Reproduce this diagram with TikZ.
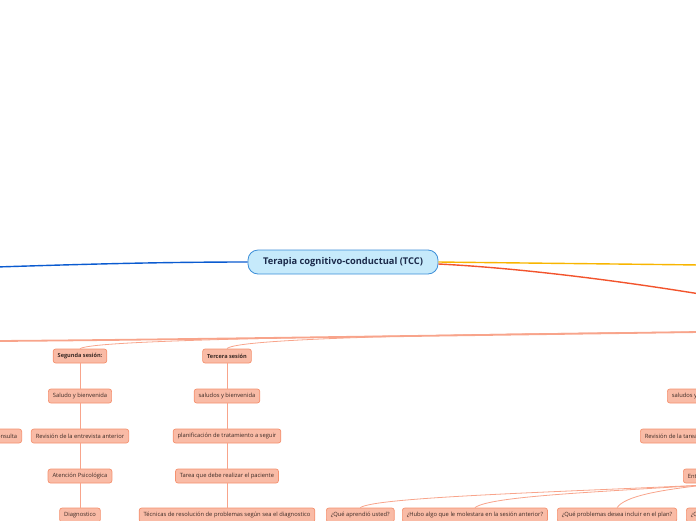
\documentclass[tikz,border=0pt]{standalone}
\usepackage{fontspec}
\setmainfont{Open Sans}
\definecolor{rootfill}{HTML}{C6EAFB}
\definecolor{rootdraw}{HTML}{3D8FD8}
\definecolor{roottext}{HTML}{1B2A4A}
\definecolor{bline}{HTML}{0A5BD0}
\definecolor{yline}{HTML}{F8B500}
\definecolor{rline}{HTML}{F2542D}
\definecolor{sline}{HTML}{F8A48B}
\definecolor{sfill}{HTML}{F9BBA6}
\definecolor{sdraw}{HTML}{F5916F}
\definecolor{stext}{HTML}{3A2A25}
\tikzset{
  rootbox/.style={draw=rootdraw, fill=rootfill, line width=0.8pt, rounded corners=10pt,
    minimum width=190pt, minimum height=24pt, text=roottext,
    font=\fontsize{9.3}{11}\selectfont\bfseries},
  subbox/.style={draw=sdraw, fill=sfill, line width=0.7pt, rounded corners=2.5pt,
    minimum height=14pt, inner xsep=4.5pt, inner ysep=0pt, text=stext,
    font=\fontsize{5.8}{7}\selectfont},
  subbold/.style={subbox, font=\fontsize{5.6}{7}\selectfont\bfseries},
  conn/.style={draw=sline, line width=0.8pt},
  thickconn/.style={draw=sline, line width=1.8pt},
}
\begin{document}
\begin{tikzpicture}[x=1pt,y=-1pt]
\useasboundingbox (0,0) rectangle (696,520);
\clip (0,0) rectangle (696,520);

% root
\node[rootbox] (root) at (343,262) {Terapia cognitivo-conductual (TCC)};

% off-screen ends
\coordinate (bl) at (-4,267);
\coordinate (yr) at (700,265);
\coordinate (rr) at (700,294);
\coordinate (sr) at (700,332);
\coordinate (sl) at (-4,341);
\coordinate (eo) at (705,485);

% main branches
\draw[bline, line width=1.4pt] (root.west) .. controls (150,262) and (60,265) .. (bl);
\draw[yline, line width=1.4pt] (root.east) .. controls (520,263) and (620,264) .. (yr);
\draw[rline, line width=1.4pt] ([yshift=-2pt]root.east) .. controls (520,268) and (620,281) .. (rr);

% column 1
\node[subbold] (seg) at (80,356) {Segunda sesión:};
\node[subbox] (sal1) at (80,396) {Saludo y bienvenida};
\node[subbox] (rev1) at (80,436) {Revisión de la entrevista anterior};
\node[subbox] (aten) at (80,476) {Atención Psicológica};
\node[subbox] (diag) at (80,515) {Diagnostico};

% column 2
\node[subbold] (ter) at (227,356) {Tercera sesión};
\node[subbox] (sal2) at (227,396) {saludos y bienvenida};
\node[subbox] (plan) at (227,436) {planificación de tratamiento a seguir};
\node[subbox] (tarea) at (227,476) {Tarea que debe realizar el paciente};
\node[subbox] (tec) at (227,515) {Técnicas de resolución de problemas según sea el diagnostico};

% left partial
\node[subbox, anchor=east] (cons) at (22,436) {Motivo de consulta};

% right column (partial)
\node[subbox, anchor=west] (sal3) at (667,396) {saludos y bienvenida};
\node[subbox, anchor=west] (revt) at (640,436) {Revisión de la tarea};
\node[subbox, anchor=west] (ent) at (683,476) {Entrevista};

% bottom row
\node[subbox, anchor=west] (q1) at (326,515) {¿Qué aprendió usted?};
\node[subbox, anchor=west] (q2) at (402,515) {¿Hubo algo que le molestara en la sesión anterior?};
\node[subbox, anchor=west] (q3) at (557,515) {¿Qué problemas desea incluir en el plan?};
\node[subbox, anchor=west] (q4) at (686,515) {¿Qué};

% salmon branch
\draw[thickconn] (sr) .. controls (400,336) and (150,340) .. (sl);
\draw[conn] (sr) .. controls (380,336) and (95,339) .. (seg.north);
\draw[conn] (sr) .. controls (420,334) and (235,339) .. (ter.north);

% vertical connectors
\draw[conn] (seg) -- (sal1);
\draw[conn] (sal1) -- (rev1);
\draw[conn] (rev1) -- (aten);
\draw[conn] (aten) -- (diag);
\draw[conn] (ter) -- (sal2);
\draw[conn] (sal2) -- (plan);
\draw[conn] (plan) -- (tarea);
\draw[conn] (tarea) -- (tec);

% bottom fan from Entrevista
\draw[conn] (eo) .. controls (560,492) and (375,497) .. (q1.north);
\draw[conn] (eo) .. controls (600,492) and (490,496) .. (q2.north);
\draw[conn] (eo) .. controls (660,490) and (625,496) .. (q3.north);
\end{tikzpicture}
\end{document}
